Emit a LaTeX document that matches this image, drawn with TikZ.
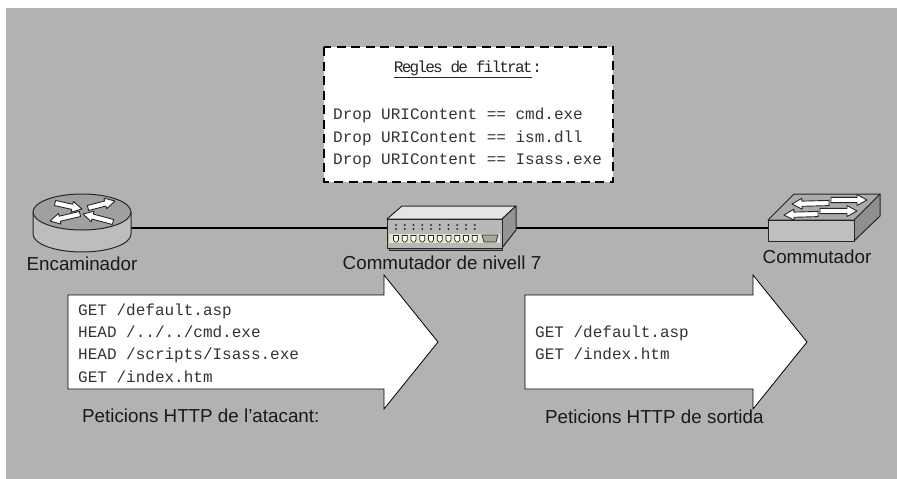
\documentclass[tikz,border=0pt]{standalone}
\usepackage{fontspec}
\setmainfont{Liberation Sans}
\newfontfamily\reqfont{Liberation Mono}
\usetikzlibrary{calc}
\definecolor{bggrey}{HTML}{B2B2B2}
\definecolor{reqink}{HTML}{333333}
\definecolor{stripbeige}{HTML}{E6E6CC}
\tikzset{
  caption/.style={font=\fontsize{18.8}{22}\selectfont, text=black!90, inner sep=0pt},
  reqtext/.style={font=\reqfont\fontsize{16}{22.3}\selectfont, text=reqink, align=left, inner sep=0pt, anchor=west},
  bigarrow/.style={draw=black, fill=white, line width=0.8pt, line join=miter},
  icon/.style={draw=black!85, line width=1pt, line join=round},
  flowarrow/.style={draw=black!85, fill=white, line width=0.9pt, line join=round},
  link/.style={draw=black, line width=1.1pt}
}
\newcommand{\flowarrow}[2]{%
  \draw[flowarrow] ($(#1)!2.6pt!90:(#2)$) -- ($(#2)!10pt!(#1)!2.6pt!-90:(#1)$) -- ($(#2)!10pt!(#1)!5.5pt!-90:(#1)$) -- (#2)
    -- ($(#2)!10pt!(#1)!5.5pt!90:(#1)$) -- ($(#2)!10pt!(#1)!2.6pt!90:(#1)$) -- ($(#1)!2.6pt!-90:(#2)$) -- cycle;}
\begin{document}
\begin{tikzpicture}[x=1pt,y=-1pt]
\useasboundingbox (0,0) rectangle (897,479);
\fill[bggrey] (6,8) rectangle (897,479);

\coordinate (rtport) at (131,228);
\coordinate (flin) at (387,228);
\coordinate (flout) at (516,228);
\coordinate (swport) at (768,228);
\draw[link] (rtport) -- (flin);
\draw[link] (flout) -- (swport);

\draw[icon, fill=black!26] (33,212) -- (33,234) arc[start angle=180, end angle=0, x radius=49, y radius=18] -- (131,212) -- cycle;
\draw[icon, fill=bggrey!90!black] (82,212) ellipse[x radius=49, y radius=18];
\flowarrow{55,203}{82,209}
\flowarrow{88,208}{115,201}
\flowarrow{80,214}{50,221}
\flowarrow{113,222}{83,214}
\node[caption] (rtlabel) at (82,264) {Encaminador};

\draw[icon, fill=black!45] (389,243) -- (389,250) -- (502,250) -- (502,243) -- cycle;
\draw[icon, fill=black!10] (387,219) -- (402,206) -- (516,206) -- (502,219) -- cycle;
\draw[icon, fill=black!42] (502,219) -- (516,206) -- (516,230) -- (502,248) -- cycle;
\draw[icon, fill=black!28] (387,219) rectangle (502,248);
\fill[stripbeige] (389,234) rectangle (500,243);
\foreach \i in {0,...,9}{
  \fill[black!80] ({396+8.75*\i},225) circle[radius=1.1];
  \fill[black!80] ({396+8.75*\i},229) circle[radius=1.1];
  \draw[black!85, fill=white, line width=0.7pt] ({393.5+8.75*\i},235.5) -- ({398.5+8.75*\i},235.5) -- ({398.5+8.75*\i},240) -- ({397+8.75*\i},242) -- ({395+8.75*\i},242) -- ({393.5+8.75*\i},240) -- cycle;
}
\draw[black!85, fill=black!35, line width=0.7pt] (482,235) -- (498,235) -- (496,242) -- (484,242) -- cycle;
\node[caption] (fllabel) at (442,263) {Commutador de nivell 7};

\draw[icon, fill=black!44] (854,220) -- (880,194) -- (880,216) -- (854,241) -- cycle;
\draw[icon, fill=black!33] (768,220) -- (794,194) -- (880,194) -- (854,220) -- cycle;
\draw[icon, fill=black!25] (768,220) rectangle (854,241);
\flowarrow{829,203}{792,204}
\flowarrow{831,200}{867,200}
\flowarrow{818,214}{784,215}
\flowarrow{820,211}{857,211}
\node[caption] (swlabel) at (817,257) {Commutador};

\draw[fill=white, draw=black, line width=1.2pt, dash pattern=on 9pt off 5.5pt] (324,47) rectangle (613,182);
\node[reqtext, anchor=center, text=black!85] (ruletitle) at (468,69) {\addfontfeature{LetterSpace=-11}\underline{Regles de filtrat}:};
\node[reqtext] (rules) at (333,138) {Drop URIContent == cmd.exe\\Drop URIContent == ism.dll\\Drop URIContent == Isass.exe};

\draw[bigarrow] (68,295) -- (384,295) -- (384,275) -- (438,342) -- (384,409) -- (384,389) -- (68,389) -- cycle;
\node[reqtext] (reqin) at (78,343) {GET /default.asp\\HEAD /../../cmd.exe\\HEAD /scripts/Isass.exe\\GET /index.htm};
\node[caption, anchor=west] (reqinlabel) at (82,416) {Peticions HTTP de l’atacant:};

\draw[bigarrow] (525,295) -- (753,295) -- (753,275) -- (807,342) -- (753,409) -- (753,389) -- (525,389) -- cycle;
\node[reqtext] (reqout) at (535,343) {GET /default.asp\\GET /index.htm};
\node[caption, anchor=west] (reqoutlabel) at (545,417) {Peticions HTTP de sortida};
\end{tikzpicture}
\end{document}
